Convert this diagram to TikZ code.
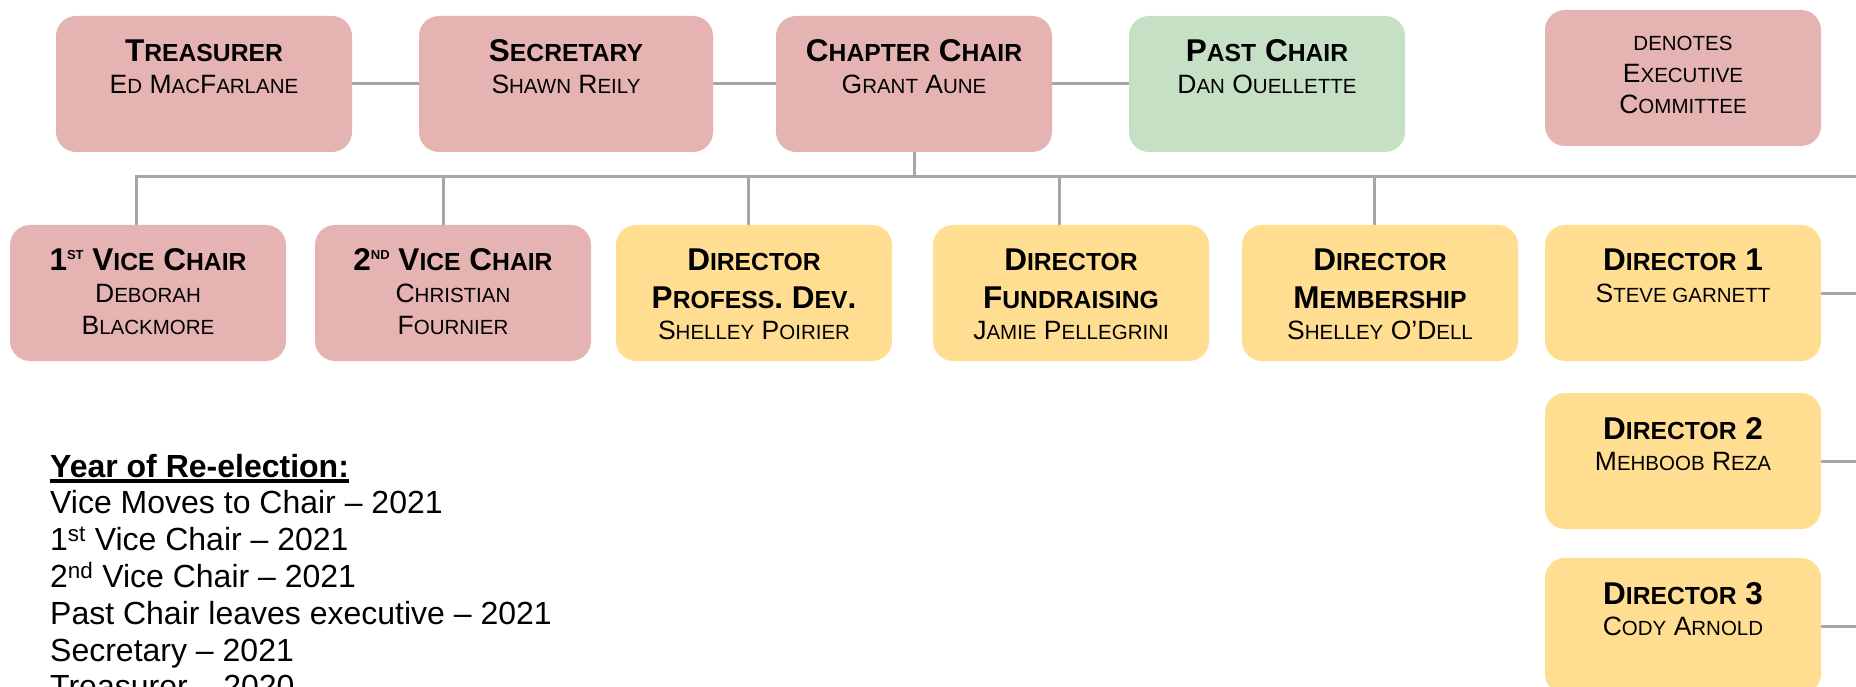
\documentclass[tikz,border=0pt]{standalone}
\usepackage{fontspec}
\setmainfont{Liberation Sans}
\usetikzlibrary{positioning,backgrounds}
\definecolor{cExec}{RGB}{230,179,179}
\definecolor{cPast}{RGB}{197,224,196}
\definecolor{cDir}{RGB}{255,222,146}
\definecolor{cLine}{RGB}{166,166,166}
\tikzset{
  card/.style={rounded corners=20pt, inner sep=0pt, outer sep=0pt},
  ex/.style={card, fill=cExec},
  pc/.style={card, fill=cPast},
  dr/.style={card, fill=cDir},
  conn/.style={draw=cLine, line width=3pt, line cap=rect},
  note/.style={inner sep=0pt, anchor=base west}
}
% fake small caps: big first letter, smaller capitals after it
\newcommand{\ttlf}{\fontsize{31.5}{31.5}\selectfont\bfseries}
\newcommand{\ttls}[1]{{\fontsize{24.7}{31.5}\selectfont #1}}
\newcommand{\nmf}{\fontsize{26.5}{31.5}\selectfont}
\newcommand{\nms}[1]{{\fontsize{20.5}{31.5}\selectfont #1}}
\newcommand{\ord}[1]{\raisebox{11pt}{\fontsize{13}{13}\selectfont #1}}
\newcommand{\cardtext}[3][276pt]{\parbox[t][136pt][t]{#1}{\centering\nmf\rule{0pt}{#2}#3}}
\newcommand{\undl}[1]{\leavevmode\setbox0\hbox{#1}\rlap{\rule[-6pt]{\wd0}{4pt}}\box0}

\begin{document}
\begin{tikzpicture}[x=1pt, y=-1pt]
  \useasboundingbox (0,0) rectangle (1856,687);
  \clip (0,0) rectangle (1856,687);
  % executive row
  \node[ex] (tre) at (204,84) {\cardtext[296pt]{46pt}{{\ttlf T\ttls{REASURER}}\\E\nms{D} M\nms{AC}F\nms{ARLANE}}};
  \node[ex, right=67pt of tre] (sec) {\cardtext[294pt]{46pt}{{\ttlf S\ttls{ECRETARY}}\\S\nms{HAWN} R\nms{EILY}}};
  \node[ex, right=63pt of sec] (cc) {\cardtext{46pt}{{\ttlf C\ttls{HAPTER} C\ttls{HAIR}}\\G\nms{RANT} A\nms{UNE}}};
  \node[pc, right=77pt of cc] (pc) {\cardtext{46pt}{{\ttlf P\ttls{AST} C\ttls{HAIR}}\\D\nms{AN} O\nms{UELLETTE}}};
  \node[ex, right=140pt of pc, yshift=6pt] (key) {\cardtext{41pt}{\nms{DENOTES}\\E\nms{XECUTIVE}\\C\nms{OMMITTEE}}};
  % second row
  \node[ex] (v1) at (148,293) {\cardtext{46pt}{{\ttlf 1\ord{ST} V\ttls{ICE} C\ttls{HAIR}}\\D\nms{EBORAH}\\B\nms{LACKMORE}}};
  \node[ex, right=29pt of v1] (v2) {\cardtext{46pt}{{\ttlf 2\ord{ND} V\ttls{ICE} C\ttls{HAIR}}\\C\nms{HRISTIAN}\\F\nms{OURNIER}}};
  \node[dr, right=25pt of v2] (pd) {\cardtext{46pt}{{\ttlf D\ttls{IRECTOR}}\\[5.5pt]{\ttlf P\ttls{ROFESS}. D\ttls{EV}.}\\S\nms{HELLEY} P\nms{OIRIER}}};
  \node[dr, right=41pt of pd] (fr) {\cardtext{46pt}{{\ttlf D\ttls{IRECTOR}}\\[5.5pt]{\ttlf F\ttls{UNDRAISING}}\\J\nms{AMIE} P\nms{ELLEGRINI}}};
  \node[dr, right=33pt of fr] (mb) {\cardtext{46pt}{{\ttlf D\ttls{IRECTOR}}\\[5.5pt]{\ttlf M\ttls{EMBERSHIP}}\\S\nms{HELLEY} O’D\nms{ELL}}};
  \node[dr, right=27pt of mb] (d1) {\cardtext{46pt}{{\ttlf D\ttls{IRECTOR} 1}\\S\nms{TEVE GARNETT}}};
  \node[dr, below=32pt of d1] (d2) {\cardtext{46pt}{{\ttlf D\ttls{IRECTOR} 2}\\M\nms{EHBOOB} R\nms{EZA}}};
  \node[dr, below=29pt of d2] (d3) {\cardtext{46pt}{{\ttlf D\ttls{IRECTOR} 3}\\C\nms{ODY} A\nms{RNOLD}}};
  % re-election list
  \node[note] (yr) at (50,477) {\parbox[t]{760pt}{\fontsize{32}{36.8}\selectfont
    \undl{\bfseries Year of Re-election:}\\
    Vice Moves to Chair – 2021\\
    1\textsuperscript{st} Vice Chair – 2021\\
    2\textsuperscript{nd} Vice Chair – 2021\\
    Past Chair leaves executive – 2021\\
    Secretary – 2021\\
    Treasurer – 2020}};
  \begin{scope}[on background layer]
    \coordinate (bus) at (136,177);
    \coordinate (edge) at (1856,177);
    \draw[conn] (tre.east) -- (sec.west);
    \draw[conn] (sec.east) -- (cc.west);
    \draw[conn] (cc.east) -- (pc.west);
    \draw[conn] (cc.south) -- (cc.south |- bus);
    \draw[conn] (bus) -- (edge);
    \foreach \n/\s in {v1/-12,v2/-10,pd/-6,fr/-12,mb/-6} {
      \coordinate (t\n) at ([xshift=\s pt]\n.north);
      \draw[conn] (t\n) -- (t\n |- bus);
    }
    \foreach \n in {d1,d2,d3}
      \draw[conn] (\n.east) -- (\n.east -| edge);
  \end{scope}
\end{tikzpicture}
\end{document}
